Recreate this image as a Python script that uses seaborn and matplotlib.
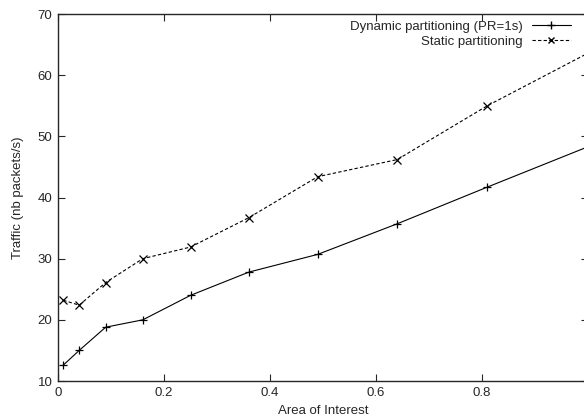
import numpy as np
import pandas as pd
import seaborn as sns
import matplotlib.pyplot as plt
from matplotlib.lines import Line2D

# Data
area = [0.01, 0.04, 0.09, 0.16, 0.25, 0.36, 0.49, 0.64, 0.81, 1.0]
dynamic = [12.6, 15.0, 18.8, 20.0, 24.0, 27.8, 30.7, 35.7, 41.7, 48.3]
static = [23.2, 22.4, 26.1, 30.0, 31.9, 36.7, 43.4, 46.2, 55.0, 63.6]
series_names = ["Dynamic partitioning (PR=1s)", "Static partitioning"]

df = pd.DataFrame({
    "area": area * 2,
    "traffic": dynamic + static,
    "series": [series_names[0]] * len(area) + [series_names[1]] * len(area),
})

sns.set_style("ticks")
plt.rcParams["font.family"] = ["Liberation Sans", "DejaVu Sans"]

fig = plt.figure(figsize=(5.84, 4.2), dpi=100)
ax = fig.add_axes([58 / 584, 1 - 381 / 420, 530 / 584, 367 / 420])

sns.lineplot(data=df, x="area", y="traffic", hue="series", style="series",
             palette=["black", "black"], markers=["+", "x"],
             dashes=[(None, None), (3, 2)], markersize=5.5, markeredgewidth=0.9,
             markeredgecolor="black", linewidth=0.8, ax=ax, legend=False)

ax.set_xlim(0, 1)
ax.set_ylim(10, 70)
ax.set_xticks([0, 0.2, 0.4, 0.6, 0.8])
ax.set_xticklabels(["0", "0.2", "0.4", "0.6", "0.8"])
ax.set_yticks(np.arange(10, 71, 10))

for s in ax.spines.values():
    s.set_visible(True)
    s.set_linewidth(1.0)
ax.tick_params(direction="in", length=5, width=0.8, top=True, right=True,
               labelsize=9.5, pad=4)

ax.set_xlabel("Area of Interest", fontsize=9.5, labelpad=5)
ax.set_ylabel("Traffic (nb packets/s)", fontsize=9.5, labelpad=10)

# gnuplot-style legend: text right-aligned, sample on the right
handles = [
    Line2D([], [], color="black", lw=0.8, marker="+", markersize=5.5),
    Line2D([], [], color="black", lw=0.8, ls=(0, (3, 2)), marker="x", markersize=4.5),
]
ax.legend(handles, series_names, loc="upper right", bbox_to_anchor=(583 / 584, 1 - 9 / 420),
          bbox_transform=fig.transFigure, frameon=False, markerfirst=False,
          fontsize=9.5, handlelength=3.0, handletextpad=0.7, labelspacing=0.2,
          borderpad=0.4)

plt.savefig("out.png", dpi=100)
